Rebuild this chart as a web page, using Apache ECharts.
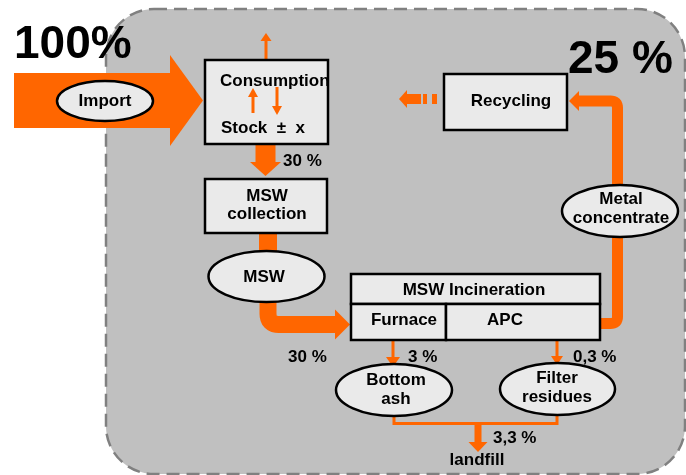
<!DOCTYPE html>
<html>
<head>
<meta charset="utf-8">
<title>Metal flows</title>
<script src="https://cdn.jsdelivr.net/npm/echarts@6/dist/echarts.min.js"></script>
<style>html,body{margin:0;padding:0;background:#fff;}</style>
</head>
<body>
<div id="main" style="width:686px;height:475px;"></div>
<script type="text/javascript">

// --- diagram content ---
var processes = ['Consumption', 'MSW\ncollection', 'Recycling', 'MSW Incineration', 'Furnace', 'APC'];
var flows = ['Import', 'MSW', 'Metal\nconcentrate', 'Bottom\nash', 'Filter\nresidues'];
var shares = ['100%', '30 %', '30 %', '3 %', '0,3 %', '3,3 %', '25 %'];
var sinks = ['landfill'];
var stockLabel = 'Stock  \u00b1  x';

// --- layout (units of the hidden 686 x 475 axes, y down) ---
var boxRect = [[205, 60, 123, 84], [205, 179, 122, 54], [444, 74, 123, 56],
               [351, 274, 249, 30], [351, 304, 95, 36], [446, 304, 154, 36]];
var boxText = [[220, 81, 'left'], [267, 205], [511, 101], [474, 290], [404, 320], [505, 320]];
var stockPos = [221, 128];
var ovalPos = [[105, 101, 48, 20], [266.5, 276.5, 58, 25.5], [620, 211, 58, 26],
               [394, 390, 58, 26], [557.5, 389, 57.5, 26]];
var ovalText = [[105, 101], [264, 277], [621, 209], [396, 390], [557, 388]];
var shareText = [[14, 45, 46], [283, 161], [288, 357], [408, 357], [573, 357], [493, 438], [568, 60, 46]];
var sinkText = [[477, 460]];

// orange flows: points, line width, head [length, width], corner radius, drawn above boxes
var arrows = [
    { pts: [[14, 100.5], [203, 100.5]], w: 55, head: [33, 91] },
    { pts: [[266, 60], [266, 33]], w: 3, head: [8, 11] },
    { pts: [[253, 113], [253, 88]], w: 3, head: [9, 10], front: true },
    { pts: [[277, 87], [277, 115]], w: 3, head: [9, 10], front: true },
    { pts: [[265.5, 144], [265.5, 176]], w: 20, head: [14, 31] },
    { pts: [[268, 233], [268, 262]], w: 18 },
    { pts: [[268, 292], [268, 324.5], [350, 324.5]], w: 17, head: [15, 30], r: 11 },
    { pts: [[600, 323.5], [617.5, 323.5], [617.5, 101], [569, 101]], w: 11, head: [10, 20], r: 7 },
    { pts: [[421, 99], [399, 99]], w: 10, head: [8, 18] },
    { pts: [[427, 99], [423, 99]], w: 10 },
    { pts: [[437, 99], [432, 99]], w: 10 },
    { pts: [[393, 340], [393, 367]], w: 3, head: [10, 14] },
    { pts: [[557, 340], [557, 365]], w: 3, head: [9, 12] },
    { pts: [[394, 412], [394, 423.5], [557, 423.5], [557, 412]], w: 3 },
    { pts: [[478, 423], [478, 452]], w: 7, head: [10, 19] }
];

var orange = '#FF6600';
var boxFill = '#EAEAEA';
var font = 'bold 17px "Liberation Sans", Arial, sans-serif';

var myChart = echarts.init(document.getElementById('main'));

function unit(a, b) {
    var dx = a[0] - b[0], dy = a[1] - b[1], l = Math.sqrt(dx * dx + dy * dy);
    return [dx / l, dy / l];
}

// replace inner corners with a small curve
function rounded(pts, r) {
    if (!r) return pts;
    var out = [pts[0]];
    for (var i = 1; i < pts.length - 1; i++) {
        var p = pts[i];
        var da = unit(pts[i - 1], p), db = unit(pts[i + 1], p);
        var p1 = [p[0] + da[0] * r, p[1] + da[1] * r];
        var p2 = [p[0] + db[0] * r, p[1] + db[1] * r];
        for (var k = 0; k <= 8; k++) {
            var t = k / 8, u = 1 - t;
            out.push([u * u * p1[0] + 2 * u * t * p[0] + t * t * p2[0],
                      u * u * p1[1] + 2 * u * t * p[1] + t * t * p2[1]]);
        }
    }
    out.push(pts[pts.length - 1]);
    return out;
}

function renderArrow(params, api) {
    var a = arrows[api.value(0)];
    var pts = a.pts.map(function (p) { return api.coord(p); });
    var children = [];
    if (a.head) {
        var tip = pts[pts.length - 1];
        var d = unit(tip, pts[pts.length - 2]);
        var base = [tip[0] - d[0] * a.head[0], tip[1] - d[1] * a.head[0]];
        var n = [-d[1], d[0]], hw = a.head[1] / 2;
        pts[pts.length - 1] = [base[0] + d[0], base[1] + d[1]];
        children.push({
            type: 'polygon',
            shape: { points: [tip, [base[0] + n[0] * hw, base[1] + n[1] * hw], [base[0] - n[0] * hw, base[1] - n[1] * hw]] },
            style: { fill: orange }
        });
    }
    children.unshift({
        type: 'polyline',
        shape: { points: rounded(pts, a.r) },
        style: { stroke: orange, lineWidth: a.w, fill: null, lineCap: 'butt', lineJoin: 'miter' }
    });
    return { type: 'group', children: children };
}

function renderBox(params, api) {
    var i = api.value(0), b = boxRect[i], t = boxText[i];
    var p0 = api.coord([b[0], b[1]]), p1 = api.coord([b[0] + b[2], b[1] + b[3]]);
    var tp = api.coord([t[0], t[1]]);
    var children = [
        { type: 'rect', shape: { x: p0[0], y: p0[1], width: p1[0] - p0[0], height: p1[1] - p0[1] },
          style: { fill: boxFill, stroke: '#000', lineWidth: 2.5 } },
        { type: 'text', style: { text: processes[i], x: tp[0], y: tp[1], align: t[2] || 'center',
          verticalAlign: 'middle', font: font, fill: '#000', lineHeight: 18 } }
    ];
    if (i === 0) {
        var sp = api.coord(stockPos);
        children.push({ type: 'text', style: { text: stockLabel, x: sp[0], y: sp[1], align: 'left',
            verticalAlign: 'middle', font: font, fill: '#000' } });
    }
    return { type: 'group', children: children };
}

function renderOval(params, api) {
    var i = api.value(0), o = ovalPos[i], t = ovalText[i];
    var c = api.coord([o[0], o[1]]), tp = api.coord(t);
    return { type: 'group', children: [
        { type: 'ellipse', shape: { cx: c[0], cy: c[1], rx: o[2], ry: o[3] },
          style: { fill: boxFill, stroke: '#000', lineWidth: 2.5 } },
        { type: 'text', style: { text: flows[i], x: tp[0], y: tp[1], align: 'center',
          verticalAlign: 'middle', font: font, fill: '#000', lineHeight: 19 } }
    ] };
}

function renderShare(params, api) {
    var i = api.value(0), t = shareText[i], p = api.coord([t[0], t[1]]);
    return { type: 'text', style: { text: shares[i], x: p[0], y: p[1], align: 'left', verticalAlign: 'middle',
        font: 'bold ' + (t[2] || 17) + 'px "Liberation Sans", Arial, sans-serif', fill: '#000' } };
}

function renderSink(params, api) {
    var i = api.value(0), p = api.coord(sinkText[i]);
    return { type: 'text', style: { text: sinks[i], x: p[0], y: p[1], align: 'center', verticalAlign: 'middle',
        font: font, fill: '#000' } };
}

function renderFrame(params, api) {
    var p0 = api.coord([106, 9]), p1 = api.coord([685, 474]);
    return { type: 'rect', shape: { x: p0[0], y: p0[1], width: p1[0] - p0[0], height: p1[1] - p0[1], r: 48 },
        style: { fill: '#C0C0C0', stroke: '#808080', lineWidth: 2.5, lineDash: [13, 7] } };
}

function idx(list, keep) {
    var out = [];
    list.forEach(function (a, i) { if (!keep || keep(a)) out.push([i]); });
    return out;
}

option = {
    animation: false,
    grid: { left: 0, right: 0, top: 0, bottom: 0 },
    xAxis: { type: 'value', min: 0, max: 686, show: false },
    yAxis: { type: 'value', min: 0, max: 475, inverse: true, show: false },
    series: [
        { type: 'custom', name: 'frame', z: 1, silent: true, data: [[0]], renderItem: renderFrame },
        { type: 'custom', name: 'flows', z: 2, silent: true, data: idx(arrows, function (a) { return !a.front; }), renderItem: renderArrow },
        { type: 'custom', name: 'processes', z: 3, silent: true, data: idx(processes), renderItem: renderBox },
        { type: 'custom', name: 'materials', z: 3, silent: true, data: idx(flows), renderItem: renderOval },
        { type: 'custom', name: 'stock', z: 4, silent: true, data: idx(arrows, function (a) { return a.front; }), renderItem: renderArrow },
        { type: 'custom', name: 'shares', z: 5, silent: true, data: idx(shares), renderItem: renderShare },
        { type: 'custom', name: 'sinks', z: 5, silent: true, data: idx(sinks), renderItem: renderSink }
    ]
};
myChart.setOption(option);
</script>
</body>
</html>
